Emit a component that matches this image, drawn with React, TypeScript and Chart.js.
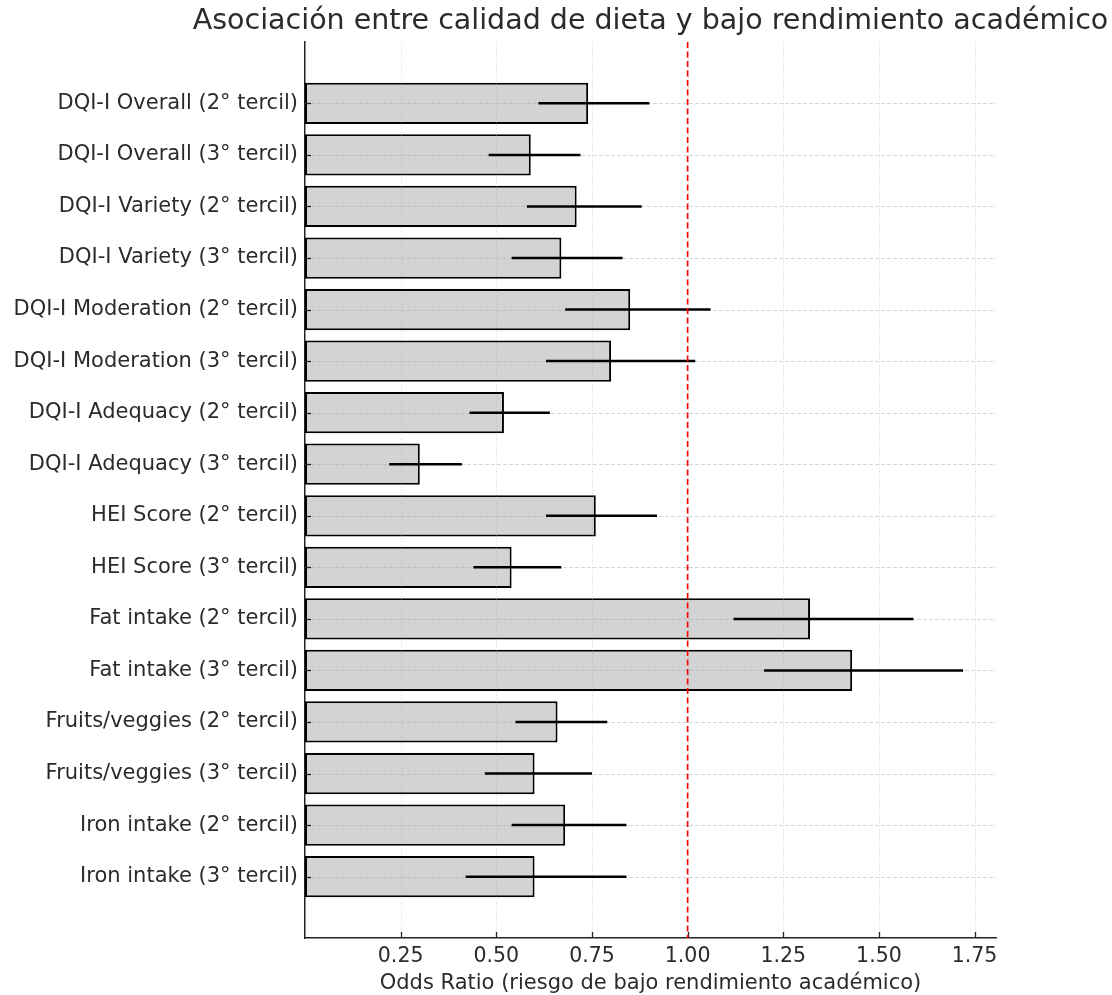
import React, { useEffect, useRef } from 'react';
import { Chart, registerables } from 'chart.js';

Chart.register(...registerables);

const categories = [
  'DQI-I Overall (2° tercil)',
  'DQI-I Overall (3° tercil)',
  'DQI-I Variety (2° tercil)',
  'DQI-I Variety (3° tercil)',
  'DQI-I Moderation (2° tercil)',
  'DQI-I Moderation (3° tercil)',
  'DQI-I Adequacy (2° tercil)',
  'DQI-I Adequacy (3° tercil)',
  'HEI Score (2° tercil)',
  'HEI Score (3° tercil)',
  'Fat intake (2° tercil)',
  'Fat intake (3° tercil)',
  'Fruits/veggies (2° tercil)',
  'Fruits/veggies (3° tercil)',
  'Iron intake (2° tercil)',
  'Iron intake (3° tercil)',
];

const oddsRatios = [0.74, 0.59, 0.71, 0.67, 0.85, 0.8, 0.52, 0.3, 0.76, 0.54, 1.32, 1.43, 0.66, 0.6, 0.68, 0.6];
const ciLower = [0.61, 0.48, 0.58, 0.54, 0.68, 0.63, 0.43, 0.22, 0.63, 0.44, 1.12, 1.2, 0.55, 0.47, 0.54, 0.42];
const ciUpper = [0.9, 0.72, 0.88, 0.83, 1.06, 1.02, 0.64, 0.41, 0.92, 0.67, 1.59, 1.72, 0.79, 0.75, 0.84, 0.84];

const xTicks = [0.25, 0.5, 0.75, 1.0, 1.25, 1.5, 1.75];
const referenceOR = 1.0;

const chartTitle = 'Asociación entre calidad de dieta y bajo rendimiento académico';
const xAxisTitle = 'Odds Ratio (riesgo de bajo rendimiento académico)';

const FONT = "'DejaVu Sans', sans-serif";
const TEXT = '#2b2b2b';

const overlayPlugin = {
  id: 'overlay',
  afterDatasetsDraw(chart: any) {
    const { ctx, chartArea } = chart;
    const x = chart.scales.x;
    const y = chart.scales.y;
    const line = (x1: number, y1: number, x2: number, y2: number) => {
      ctx.beginPath();
      ctx.moveTo(x1, y1);
      ctx.lineTo(x2, y2);
      ctx.stroke();
    };
    ctx.save();
    // horizontal grid (dashed)
    ctx.lineWidth = 0.8;
    ctx.strokeStyle = 'rgba(160,160,160,0.55)';
    ctx.setLineDash([4, 2]);
    categories.forEach((_, i) => {
      const py = Math.round(y.getPixelForValue(i)) + 0.5;
      line(chartArea.left, py, chartArea.right, py);
    });
    // vertical grid (dotted)
    ctx.strokeStyle = 'rgba(160,160,160,0.45)';
    ctx.setLineDash([1.2, 2]);
    xTicks.forEach((v) => {
      const px = Math.round(x.getPixelForValue(v)) + 0.5;
      line(px, chartArea.top, px, chartArea.bottom);
    });
    // inward tick marks
    ctx.setLineDash([]);
    ctx.strokeStyle = '#222';
    ctx.lineWidth = 1.3;
    categories.forEach((_, i) => {
      const py = Math.round(y.getPixelForValue(i)) + 0.5;
      line(chartArea.left, py, chartArea.left + 6, py);
    });
    xTicks.forEach((v) => {
      const px = Math.round(x.getPixelForValue(v)) + 0.5;
      line(px, chartArea.bottom, px, chartArea.bottom - 6);
    });
    // error bars
    ctx.lineWidth = 2.5;
    ctx.strokeStyle = '#000';
    categories.forEach((_, i) => {
      const py = y.getPixelForValue(i);
      line(x.getPixelForValue(ciLower[i]), py, x.getPixelForValue(ciUpper[i]), py);
    });
    // reference line
    ctx.strokeStyle = '#ff0000';
    ctx.lineWidth = 1.6;
    ctx.setLineDash([6, 3.5]);
    const rx = x.getPixelForValue(referenceOR);
    line(rx, chartArea.top, rx, chartArea.bottom);
    ctx.setLineDash([]);
    // title
    ctx.fillStyle = TEXT;
    ctx.font = `28.5px ${FONT}`;
    ctx.textAlign = 'center';
    ctx.textBaseline = 'middle';
    ctx.fillText(chartTitle, (chartArea.left + chartArea.right) / 2, 22);
    ctx.restore();
  },
};

export default function App() {
  const canvasRef = useRef<HTMLCanvasElement | null>(null);

  useEffect(() => {
    if (!canvasRef.current) return;
    const chart = new Chart(canvasRef.current, {
      type: 'bar',
      data: {
        datasets: [
          {
            data: oddsRatios.map((v, i) => ({ x: v, y: i })),
            backgroundColor: '#d3d3d3',
            borderColor: '#000',
            borderWidth: 2,
            borderSkipped: false,
            barPercentage: 0.8,
            categoryPercentage: 1,
          },
        ],
      },
      options: {
        indexAxis: 'y',
        animation: false,
        responsive: false,
        devicePixelRatio: 1,
        layout: { padding: { top: 42, right: 116, left: 0, bottom: 0 } },
        plugins: {
          legend: { display: false },
          tooltip: { enabled: false },
          title: { display: false },
        },
        scales: {
          x: {
            type: 'linear',
            min: 0,
            max: 1.806,
            offset: false,
            afterBuildTicks: (s: any) => {
              s.ticks = xTicks.map((v) => ({ value: v }));
            },
            afterFit: (s: any) => {
              s.height = 57;
            },
            grid: {
              offset: false,
              drawOnChartArea: false,
              drawTicks: false,
            },
            border: { display: true, color: '#222', width: 1.5 },
            ticks: {
              color: TEXT,
              font: { family: FONT, size: 20.5 },
              padding: 6,
              autoSkip: false,
              maxRotation: 0,
              callback: (v: any) => Number(v).toFixed(2),
            },
            title: {
              display: true,
              text: xAxisTitle,
              color: TEXT,
              font: { family: FONT, size: 21 },
              padding: { top: 0, bottom: -1 },
            },
          },
          y: {
            type: 'linear',
            min: -1.19,
            max: 16.19,
            reverse: true,
            offset: false,
            afterBuildTicks: (s: any) => {
              s.ticks = categories.map((_, i) => ({ value: i }));
            },
            afterFit: (s: any) => {
              s.width = 305;
            },
            grid: {
              offset: false,
              drawOnChartArea: false,
              drawTicks: false,
            },
            border: { display: true, color: '#222', width: 1.5 },
            ticks: {
              color: TEXT,
              font: { family: FONT, size: 21 },
              padding: 7,
              autoSkip: false,
              callback: (v: any) => categories[Number(v)] ?? '',
            },
          },
        },
      },
      plugins: [overlayPlugin],
    } as any);
    return () => chart.destroy();
  }, []);

  return (
    <div style={{ position: 'absolute', top: 0, left: 0, width: 1112, height: 995, background: '#fff' }}>
      <canvas ref={canvasRef} width={1112} height={995} />
    </div>
  );
}
